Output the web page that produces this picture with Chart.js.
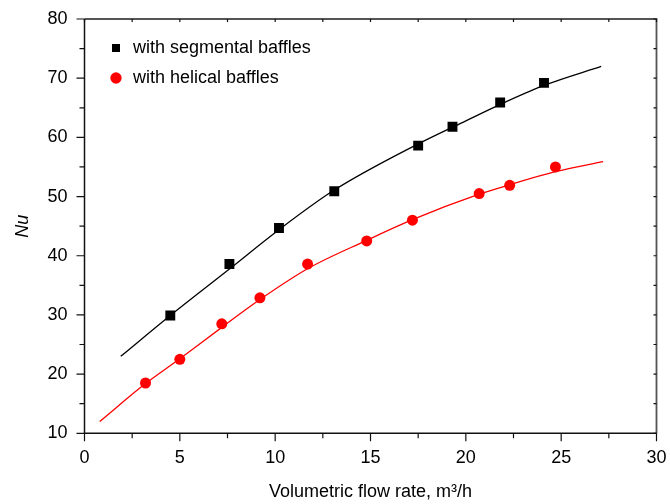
<!DOCTYPE html>
<html>
<head>
<meta charset="utf-8">
<script src="https://cdn.jsdelivr.net/npm/chart.js@4.4.1/dist/chart.umd.min.js"></script>
<style>
  html, body { margin: 0; padding: 0; background: #fff; }
</style>
</head>
<body>
<canvas id="chart" width="670" height="504"></canvas>
<script>
const segFlow = [4.5, 7.6, 10.2, 13.1, 17.5, 19.3, 21.8, 24.1];
const segNu = [29.9, 38.6, 44.7, 50.9, 58.6, 61.8, 65.9, 69.2];
const helFlow = [3.2, 5.0, 7.2, 9.2, 11.7, 14.8, 17.2, 20.7, 22.3, 24.7];
const helNu = [18.5, 22.5, 28.5, 32.9, 38.6, 42.5, 46.0, 50.5, 51.9, 55.0];

// fitted curves
const segFitFlow = [1.9, 4.5, 7.5, 10.2, 13.1, 17.5, 20.0, 22.1, 24.2, 27.1];
const segFitNu = [23.0, 29.9, 37.5, 44.4, 51.1, 58.9, 62.8, 66.0, 68.9, 72.0];
const helFitFlow = [0.8, 3.2, 5.0, 7.2, 9.2, 11.7, 14.8, 17.2, 20.7, 22.3, 24.7, 27.2];
const helFitNu = [12.0, 18.4, 22.6, 27.9, 32.6, 37.8, 42.6, 46.1, 50.4, 52.0, 54.2, 55.9];

const xTicks = [0, 5, 10, 15, 20, 25, 30];
const yTicks = [10, 20, 30, 40, 50, 60, 70, 80];

const FONT = '"Liberation Sans", Arial, sans-serif';

function toPoints(xs, ys) {
    return xs.map((x, i) => ({ x: x, y: ys[i] }));
}

// move the legend box inside the plot, top left
const legendPlace = {
    id: 'legendPlace',
    beforeDraw(chart) {
        const lg = chart.legend;
        if (!lg) return;
        const w = lg.right - lg.left, h = lg.bottom - lg.top;
        lg.left = 96; lg.right = 96 + w;
        lg.top = 27; lg.bottom = 27 + h;
    }
};

// frame + major/minor ticks
const frameTicks = {
    id: 'frameTicks',
    afterDraw(chart) {
        const { ctx, chartArea: a, scales } = chart;
        const xs = scales.x, ys = scales.y;
        ctx.save();
        ctx.strokeStyle = '#555';
        ctx.lineWidth = 1.8;
        ctx.beginPath();
        ctx.moveTo(a.left, a.top);
        ctx.lineTo(a.right, a.top);
        ctx.lineTo(a.right, a.bottom);
        ctx.stroke();
        ctx.strokeStyle = '#111';
        ctx.lineWidth = 1.5;
        ctx.beginPath();
        ctx.moveTo(a.left, a.top);
        ctx.lineTo(a.left, a.bottom);
        ctx.lineTo(a.right, a.bottom);
        ctx.stroke();

        ctx.lineWidth = 1.2;
        ctx.strokeStyle = '#111';
        ctx.beginPath();
        for (let v = 0; v <= 30; v += 2.5) {
            const px = xs.getPixelForValue(v);
            const len = v % 5 === 0 ? 8 : 5;
            ctx.moveTo(px, a.bottom);
            ctx.lineTo(px, a.bottom + len);
            ctx.moveTo(px, a.top);
            ctx.lineTo(px, a.top + 3);
        }
        for (let v = 10; v <= 80; v += 5) {
            const py = ys.getPixelForValue(v);
            const len = v % 10 === 0 ? 8 : 5;
            ctx.moveTo(a.left, py);
            ctx.lineTo(a.left - len, py);
            ctx.moveTo(a.right, py);
            ctx.lineTo(a.right - 3, py);
        }
        ctx.stroke();
        ctx.restore();
    }
};

new Chart(document.getElementById('chart'), {
    type: 'scatter',
    data: {
        datasets: [
            {
                label: 'with segmental baffles',
                data: toPoints(segFlow, segNu),
                pointStyle: 'rect',
                pointRadius: 7,
                backgroundColor: '#000',
                borderColor: '#000',
                borderWidth: 0
            },
            {
                label: 'with helical baffles',
                data: toPoints(helFlow, helNu),
                pointStyle: 'circle',
                pointRadius: 5.5,
                backgroundColor: '#ff0000',
                borderColor: '#ff0000',
                borderWidth: 0
            },
            {
                label: 'segmental fit',
                data: toPoints(segFitFlow, segFitNu),
                showLine: true,
                pointRadius: 0,
                borderColor: '#000',
                borderWidth: 1.3,
                cubicInterpolationMode: 'monotone'
            },
            {
                label: 'helical fit',
                data: toPoints(helFitFlow, helFitNu),
                showLine: true,
                pointRadius: 0,
                borderColor: '#ff0000',
                borderWidth: 1.3,
                cubicInterpolationMode: 'monotone'
            }
        ]
    },
    options: {
        responsive: false,
        animation: false,
        layout: { padding: { top: 19, right: 13.5, left: 0, bottom: 0 } },
        plugins: {
            tooltip: { enabled: false },
            legend: {
                position: 'chartArea',
                align: 'start',
                maxWidth: 250,
                labels: {
                    usePointStyle: true,
                    boxWidth: 16,
                    boxHeight: 8,
                    padding: 12,
                    color: '#000',
                    font: { size: 18, family: FONT },
                    filter: item => item.datasetIndex < 2
                }
            }
        },
        scales: {
            x: {
                type: 'linear',
                min: 0,
                max: 30,
                afterFit(scale) {
                    scale.height = 70.7;
                    scale.paddingLeft = 0;
                    scale.paddingRight = 0;
                },
                afterBuildTicks(scale) { scale.ticks = xTicks.map(v => ({ value: v })); },
                grid: { display: false, drawTicks: false },
                border: { display: false },
                ticks: { padding: 14, color: '#000', font: { size: 18, family: FONT } },
                title: {
                    display: true,
                    text: 'Volumetric flow rate, m³/h',
                    color: '#000',
                    font: { size: 18, family: FONT },
                    padding: { top: 0, bottom: 1 }
                }
            },
            y: {
                type: 'linear',
                min: 10,
                max: 80,
                afterFit(scale) {
                    scale.width = 84.5;
                    scale.paddingTop = 0;
                    scale.paddingBottom = 0;
                },
                afterBuildTicks(scale) { scale.ticks = yTicks.map(v => ({ value: v })); },
                grid: { display: false, drawTicks: false },
                border: { display: false },
                ticks: { padding: 17, color: '#000', font: { size: 18, family: FONT } },
                title: {
                    display: true,
                    text: 'Nu',
                    color: '#000',
                    font: { size: 18, family: FONT, style: 'italic' },
                    padding: { top: 12, bottom: 0 }
                }
            }
        }
    },
    plugins: [legendPlace, frameTicks]
});
</script>
</body>
</html>
